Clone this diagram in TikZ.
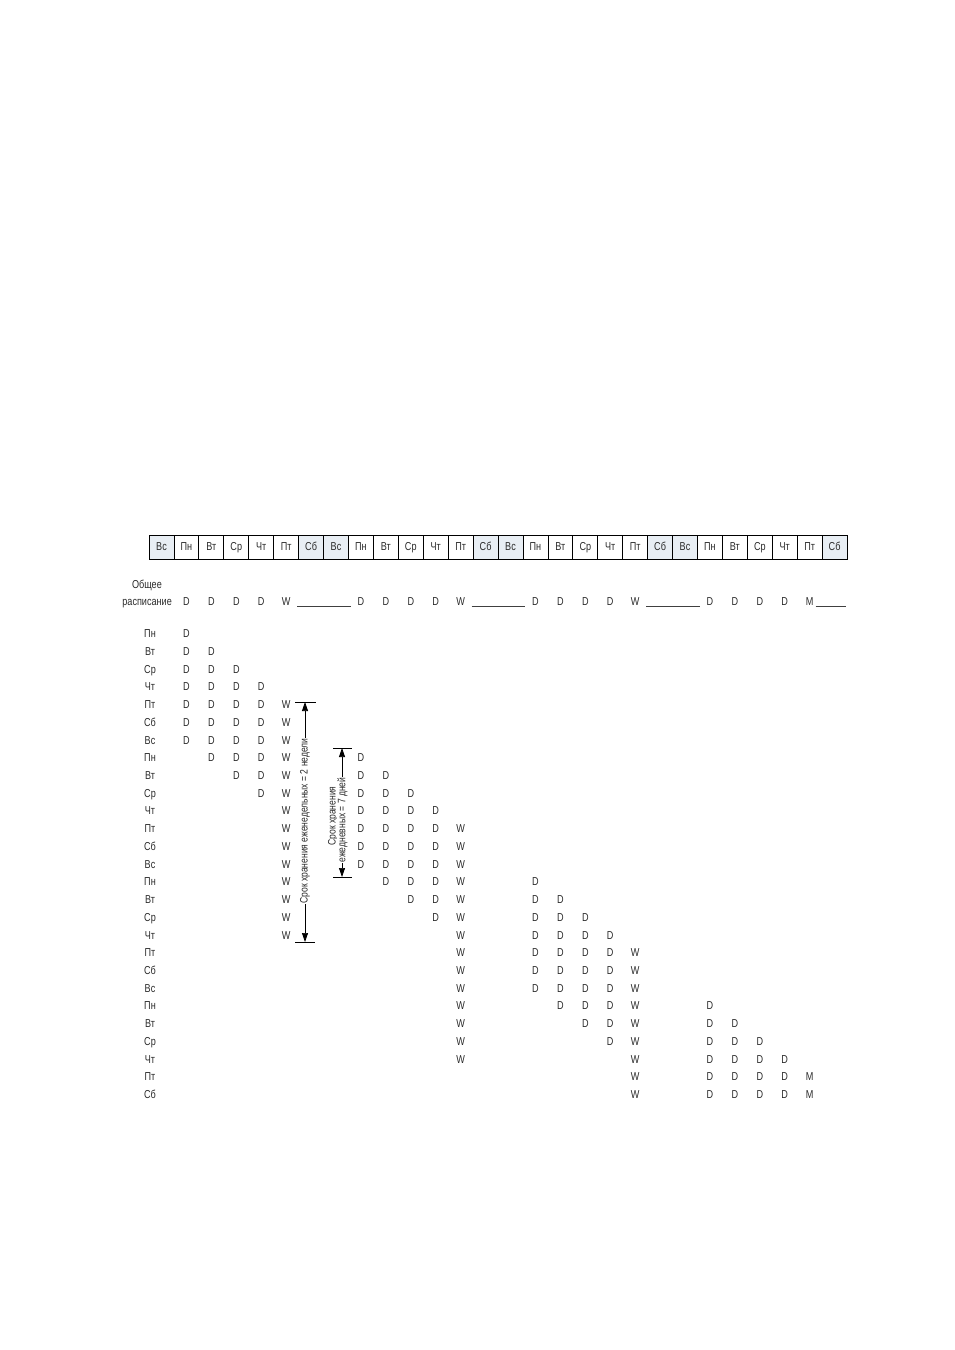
\documentclass[tikz,border=0pt]{standalone}
\usepackage{fontspec}
\setmainfont{Liberation Sans}[FakeStretch=0.79]
\usetikzlibrary{arrows.meta,calc}
\definecolor{wkend}{HTML}{E8EEF4}
\definecolor{txt}{HTML}{2A2A2A}
\begin{document}
\begin{tikzpicture}[x=1pt,y=-1pt,
  every node/.style={font=\fontsize{11.5}{12}\selectfont, text=txt, inner sep=0pt},
  daybox/.style={draw=black, line width=0.8pt, minimum width=24.93pt, minimum height=24.5pt, text height=8.3pt, text depth=2pt},
  wkbox/.style={daybox, fill=wkend},
  cell/.style={text height=8.3pt, text depth=0pt},
  uline/.style={draw=black!75, line width=0.9pt},
  dim/.style={line width=0.7pt, {Triangle[width=6pt,length=9pt]}-{Triangle[width=6pt,length=9pt]}},
  tick/.style={line width=0.7pt},
  dimtext/.style={fill=white, rotate=90, inner sep=0.8pt, align=center, font=\fontsize{10.8}{10.5}\selectfont}
]
\useasboundingbox (0,0) rectangle (955,1350);
% header row
\foreach \i in {0,...,27} {
  \pgfmathtruncatemacro\m{mod(\i,7)}
  \ifcase\m \def\dn{Вс}\or \def\dn{Пн}\or \def\dn{Вт}\or \def\dn{Ср}\or \def\dn{Чт}\or \def\dn{Пт}\or \def\dn{Сб}\fi
  \ifnum\m=0 \def\bx{wkbox}\else\ifnum\m=6 \def\bx{wkbox}\else\def\bx{daybox}\fi\fi
  \node[\bx] (hd\i) at ({161.5+24.93*\i},547.3) {\dn};
}
% general schedule
\node[anchor=base east] (gen1) at (162,588) {Общее};
\node[anchor=base east] (gen2) at (172,605) {расписание};
\foreach \c in {1,2,3,4,8,9,10,11,15,16,17,18,22,23,24,25} {
  \node[cell, anchor=base] (s\c) at ({161.5+24.93*\c},605) {D};
}
\foreach \c in {5,12,19} {
  \node[cell, anchor=base] (s\c) at ({161.5+24.93*\c},605) {W};
}
\node[cell, anchor=base] (s26) at ({161.5+24.93*26},605) {M};
\foreach \a/\b in {5/8,12/15,19/22} {
  \draw[uline] ($(s\a.base)+(11,1)$) -- ($(s\b.base)+(-10,1)$);
}
\coordinate (uend) at (845.5,606);
\draw[uline] ($(s26.base)+(6,1)$) -- (uend);
% row labels
\foreach \r in {0,...,26} {
  \pgfmathtruncatemacro\m{mod(\r+1,7)}
  \ifcase\m \def\dn{Вс}\or \def\dn{Пн}\or \def\dn{Вт}\or \def\dn{Ср}\or \def\dn{Чт}\or \def\dn{Пт}\or \def\dn{Сб}\fi
  \node[cell] (rl\r) at (150,{633.5+17.73*\r}) {\dn};
}
% D cells
\foreach \b in {0,1,2,3} {
  \foreach \k in {0,...,3} {
    \foreach \j in {0,...,6} {
      \pgfmathtruncatemacro\r{7*\b+\k+\j}
      \pgfmathtruncatemacro\c{1+7*\b+\k}
      \ifnum\r<27
        \node[cell] (g\r-\c) at ({161.5+24.93*\c},{633.5+17.73*\r}) {D};
      \fi
    }
  }
}
% W cells
\foreach \b in {0,1,2} {
  \foreach \j in {0,...,13} {
    \pgfmathtruncatemacro\r{7*\b+4+\j}
    \pgfmathtruncatemacro\c{5+7*\b}
    \ifnum\r<27
      \node[cell] (g\r-\c) at ({161.5+24.93*\c},{633.5+17.73*\r}) {W};
    \fi
  }
}
\node[cell] (g25-26) at ({161.5+24.93*26},{633.5+17.73*25}) {M};
\node[cell] (g26-26) at ({161.5+24.93*26},{633.5+17.73*26}) {M};
% big dimension arrow
\coordinate (bt) at (305,702);
\coordinate (bb) at (305,942);
\draw[tick] ($(bt)+(-10,0)$) -- ($(bt)+(11,0)$);
\draw[tick] ($(bb)+(-10,0)$) -- ($(bb)+(10,0)$);
\draw[dim] (bt) -- (bb);
\node[dimtext] (btxt) at (305,821) {Срок хранения еженедельных = 2 недели};
% small dimension arrow
\coordinate (st) at (342,748);
\coordinate (sb) at (342,877);
\draw[tick] ($(st)+(-9,0)$) -- ($(st)+(10,0)$);
\draw[tick] ($(sb)+(-9,0)$) -- ($(sb)+(10,0)$);
\draw[dim] (st) -- (sb);
\node[dimtext, fill=none] (stxt1) at (333,816) {Срок хранения};
\node[dimtext] (stxt2) at (342.5,820) {ежедневных = 7 дней};
\end{tikzpicture}
\end{document}
